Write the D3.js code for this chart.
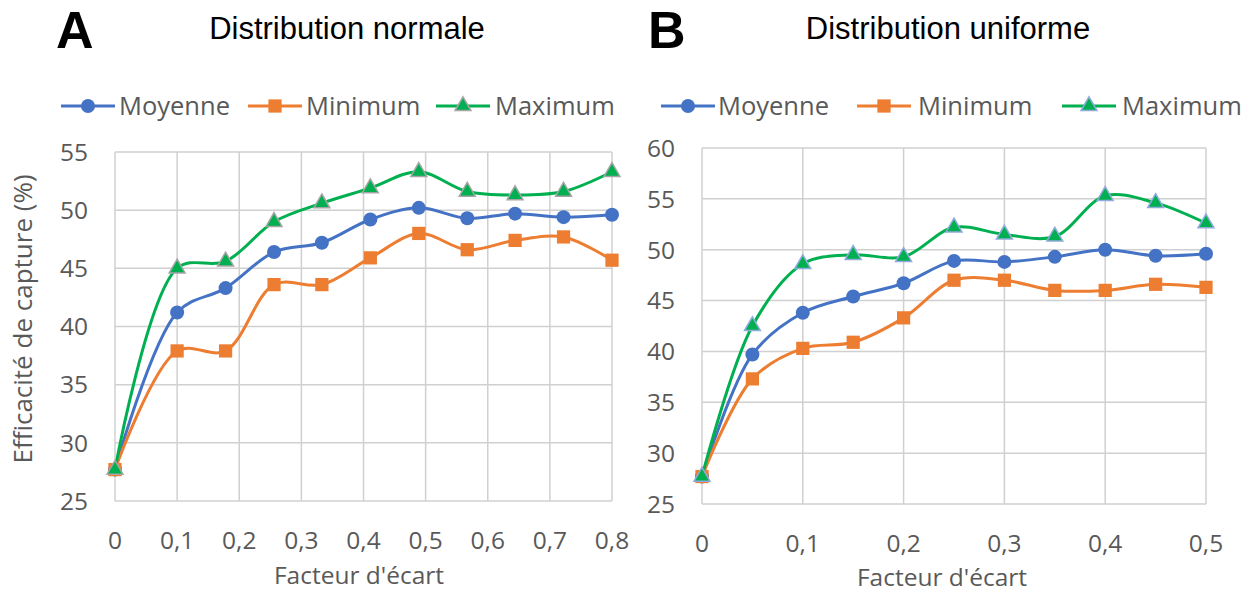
<!DOCTYPE html>
<html>
<head>
<meta charset="utf-8">
<script src="https://cdn.jsdelivr.net/npm/d3@7"></script>
<style>
  body { margin: 0; background: #fff; }
  text { font-family: "Open Sans", "DejaVu Sans", sans-serif; }
</style>
</head>
<body>
<div id="chart"></div>
<script>
// Panel A - distribution normale
const xA = [0, 0.1, 0.178, 0.256, 0.333, 0.411, 0.489, 0.567, 0.644, 0.722, 0.8];
const moyA = [27.7, 41.2, 43.3, 46.4, 47.2, 49.2, 50.2, 49.3, 49.7, 49.4, 49.6];
const minA = [27.7, 37.9, 37.9, 43.6, 43.6, 45.9, 48.0, 46.6, 47.4, 47.7, 45.7];
const maxA = [27.7, 45.0, 45.6, 49.0, 50.6, 51.9, 53.3, 51.6, 51.3, 51.6, 53.3];
const xTicksA = [0, 0.1, 0.2, 0.3, 0.4, 0.5, 0.6, 0.7, 0.8];
const yTicksA = [25, 30, 35, 40, 45, 50, 55];

// Panel B - distribution uniforme
const xB = [0, 0.05, 0.1, 0.15, 0.2, 0.25, 0.3, 0.35, 0.4, 0.45, 0.5];
const moyB = [27.7, 39.7, 43.8, 45.4, 46.7, 48.9, 48.8, 49.3, 50.0, 49.4, 49.6];
const minB = [27.7, 37.3, 40.3, 40.9, 43.3, 47.0, 47.0, 46.0, 46.0, 46.6, 46.3];
const maxB = [27.7, 42.5, 48.6, 49.5, 49.3, 52.2, 51.5, 51.3, 55.3, 54.6, 52.6];
const xTicksB = [0, 0.1, 0.2, 0.3, 0.4, 0.5];
const yTicksB = [25, 30, 35, 40, 45, 50, 55, 60];

const seriesNames = ["Moyenne", "Minimum", "Maximum"];
const colors = ["#4472C4", "#ED7D31", "#00B050"];

const svg = d3.select("#chart").append("svg")
    .attr("width", 1254).attr("height", 594);

const fmt = d => String(d).replace(".", ",");

function drawPanel(p) {
    let x = d3.scaleLinear().domain(p.xDomain).range([p.left, p.right]);
    let y = d3.scaleLinear().domain(p.yDomain).range([p.bottom, p.top]);
    let g = svg.append("g");

    // gridlines
    g.selectAll(".hg").data(p.yTicks).join("line")
        .attr("x1", p.left).attr("x2", p.right)
        .attr("y1", d => y(d)).attr("y2", d => y(d))
        .attr("stroke", "#d0d0d0").attr("stroke-width", 1.5);
    g.selectAll(".vg").data(p.xTicks).join("line")
        .attr("x1", d => x(d)).attr("x2", d => x(d))
        .attr("y1", p.top).attr("y2", p.bottom)
        .attr("stroke", "#d0d0d0").attr("stroke-width", 1.5);

    // tick labels
    g.selectAll(".yl").data(p.yTicks).join("text")
        .attr("x", p.left - 27).attr("y", d => y(d))
        .attr("dy", "0.36em").attr("text-anchor", "end")
        .style("font-size", "24.5px").style("fill", "#595959")
        .text(d => d);
    g.selectAll(".xl").data(p.xTicks).join("text")
        .attr("x", d => x(d)).attr("y", p.bottom + 39)
        .attr("dy", "0.36em").attr("text-anchor", "middle")
        .style("font-size", "24.5px").style("fill", "#595959")
        .text(fmt);

    // axis title
    g.append("text")
        .attr("x", p.xTitleX).attr("y", p.xTitleY)
        .attr("dy", "0.36em").attr("text-anchor", "middle")
        .style("font-size", "24.5px").style("fill", "#595959")
        .text("Facteur d'écart");

    // titles
    g.append("text")
        .attr("x", p.letterX).attr("y", 48)
        .style("font-family", "'Liberation Sans', Arial, sans-serif")
        .style("font-size", "52px").style("font-weight", "bold")
        .text(p.letter);
    g.append("text")
        .attr("x", p.titleX).attr("y", 28)
        .attr("dy", "0.36em").attr("text-anchor", "middle")
        .style("font-family", "'Liberation Sans', Arial, sans-serif")
        .style("font-size", "31px")
        .text(p.title);

    // lines
    let line = d3.line()
        .x(d => x(d[0])).y(d => y(d[1]))
        .curve(d3.curveCatmullRom.alpha(0.5));
    p.series.forEach((vals, i) => {
        let pts = p.xs.map((xv, j) => [xv, vals[j]]);
        g.append("path")
            .attr("d", line(pts))
            .attr("fill", "none")
            .attr("stroke", colors[i])
            .attr("stroke-width", 3);
    });
    // markers drawn after all lines
    p.series.forEach((vals, i) => {
        p.xs.forEach((xv, j) => {
            drawMarker(g, i, x(xv), y(vals[j]), p.triStroke);
        });
    });

    // legend
    p.legend.forEach((lx, i) => {
        g.append("line")
            .attr("x1", lx).attr("x2", lx + 54)
            .attr("y1", 106).attr("y2", 106)
            .attr("stroke", colors[i]).attr("stroke-width", 3);
        drawMarker(g, i, lx + 27, 106, p.triStroke);
        g.append("text")
            .attr("x", p.legendText[i]).attr("y", 106)
            .attr("dy", "0.36em")
            .style("font-size", "25.5px").style("fill", "#595959")
            .text(seriesNames[i]);
    });
}

function drawMarker(g, i, cx, cy, triStroke) {
    if (i === 0) {
        g.append("circle").attr("cx", cx).attr("cy", cy).attr("r", 7)
            .attr("fill", colors[0]);
    } else if (i === 1) {
        g.append("path")
            .attr("d", d3.symbol().type(d3.symbolSquare).size(175)())
            .attr("transform", `translate(${cx},${cy})`)
            .attr("fill", colors[1]);
    } else {
        g.append("path")
            .attr("d", d3.symbol().type(d3.symbolTriangle).size(110)())
            .attr("transform", `translate(${cx},${cy})`)
            .attr("fill", colors[2])
            .attr("stroke", triStroke).attr("stroke-width", 1.5);
    }
}

drawPanel({
    left: 115, right: 612, top: 152, bottom: 501,
    xDomain: [0, 0.8], yDomain: [25, 55],
    xTicks: xTicksA, yTicks: yTicksA,
    xs: xA, series: [moyA, minA, maxA],
    xTitleX: 359, xTitleY: 575, letter: "A", letterX: 56, title: "Distribution normale", titleX: 347,
    legend: [61, 248, 436], legendText: [119, 306, 495], triStroke: "#a5a5a5"
});

drawPanel({
    left: 702, right: 1206, top: 148, bottom: 504,
    xDomain: [0, 0.5], yDomain: [25, 60],
    xTicks: xTicksB, yTicks: yTicksB,
    xs: xB, series: [moyB, minB, maxB],
    xTitleX: 942, xTitleY: 577, letter: "B", letterX: 648, title: "Distribution uniforme", titleX: 948,
    legend: [661, 857, 1062], legendText: [718, 918, 1122], triStroke: "#8faadc"
});

// y axis title (only on panel A)
svg.append("text")
    .attr("transform", "translate(23,319) rotate(-90)")
    .attr("dy", "0.36em").attr("text-anchor", "middle")
    .style("font-size", "26px").style("fill", "#595959")
    .text("Efficacité de capture (%)");
</script>
</body>
</html>
